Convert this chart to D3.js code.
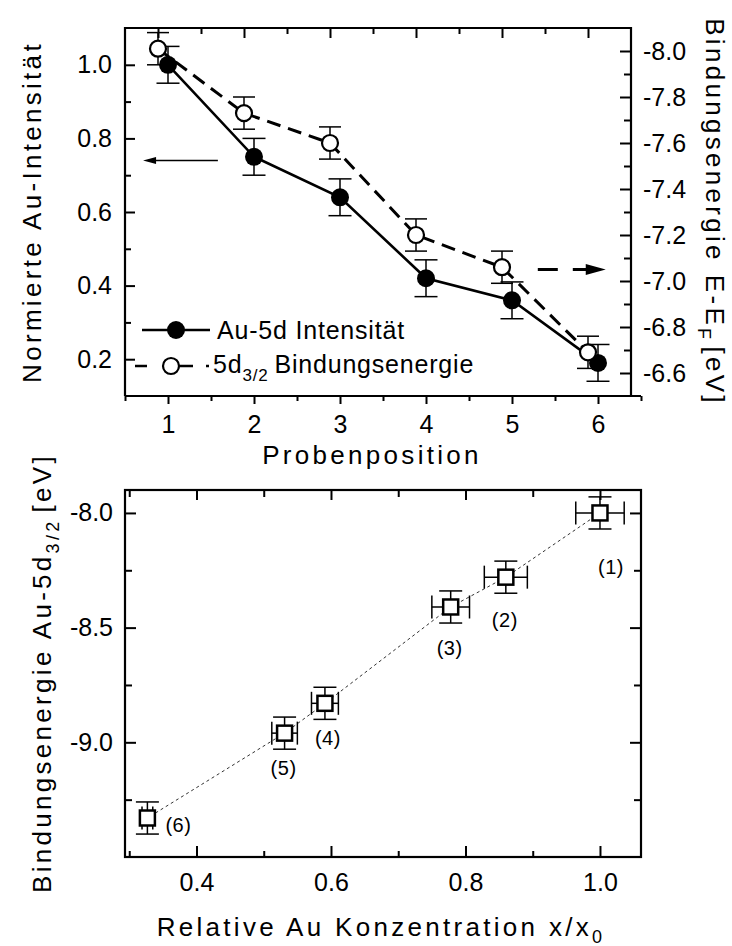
<!DOCTYPE html>
<html>
<head>
<meta charset="utf-8">
<script src="https://cdn.jsdelivr.net/npm/d3@7"></script>
<style>
body { margin: 0; background: #fff; }
text { font-family: "Liberation Sans", Arial, Helvetica, sans-serif; fill: #000; }
</style>
</head>
<body>
<svg id="chart" width="732" height="946"></svg>
<script>
// ---- top panel: intensity and binding energy vs. sample position
const positions = [1, 2, 3, 4, 5, 6]
const intensity = [1.0, 0.75, 0.64, 0.42, 0.36, 0.19]
const intensityErr = [0.05, 0.05, 0.05, 0.05, 0.05, 0.05]
const bindingTop = [-8.01, -7.73, -7.60, -7.20, -7.06, -6.69]
const bindingTopErr = [0.07, 0.07, 0.07, 0.07, 0.07, 0.07]
const intensityTicks = [0.2, 0.4, 0.6, 0.8, 1.0]
const intensityMinor = [0.3, 0.5, 0.7, 0.9]
const bindingTicks = [-8.0, -7.8, -7.6, -7.4, -7.2, -7.0, -6.8, -6.6]
const bindingMinor = [-7.9, -7.7, -7.5, -7.3, -7.1, -6.9, -6.7]
const positionMinor = [1.5, 2.5, 3.5, 4.5, 5.5, 6.5]

// ---- bottom panel: binding energy vs. relative concentration
const concentration = [1.0, 0.86, 0.778, 0.591, 0.531, 0.327]
const concentrationErr = [0.036, 0.032, 0.028, 0.02, 0.019, 0.008]
const bindingBottom = [-8.0, -8.28, -8.41, -8.83, -8.96, -9.33]
const bindingBottomErr = [0.07, 0.07, 0.07, 0.07, 0.07, 0.07]
const pointLabels = ["(1)", "(2)", "(3)", "(4)", "(5)", "(6)"]
const concTicks = [0.4, 0.6, 0.8, 1.0]
const concMinor = [0.3, 0.5, 0.7, 0.9]
const energyTicks = [-8.0, -8.5, -9.0]
const energyMinor = [-8.25, -8.75, -9.25]

// label offsets in pixels from the point centre (layout only)
const labelOffsets = [[11, 54], [-1, 43], [-1, 41], [3, 35], [-1, 35], [31, 7]]

const svg = d3.select("#chart")
const fmt1 = d => d.toFixed(1)
const tickFont = 25

function styleAxis(g, labelSize) {
    g.select(".domain").remove()
    g.attr("font-size", null).attr("font-family", null)
    g.selectAll("line").attr("stroke", "#000").attr("stroke-width", 2)
    g.selectAll("text").attr("font-size", labelSize)
}

function errBars(g, pts, cap) {
    // pts: [x1,y1,x2,y2,orientation]
    pts.forEach(p => {
        g.append("line").attr("x1", p[0]).attr("y1", p[1]).attr("x2", p[2]).attr("y2", p[3])
        if (p[4] === "v") {
            g.append("line").attr("x1", p[0] - cap).attr("x2", p[0] + cap).attr("y1", p[1]).attr("y2", p[1])
            g.append("line").attr("x1", p[2] - cap).attr("x2", p[2] + cap).attr("y1", p[3]).attr("y2", p[3])
        } else {
            g.append("line").attr("x1", p[0]).attr("x2", p[0]).attr("y1", p[1] - cap).attr("y2", p[1] + cap)
            g.append("line").attr("x1", p[2]).attr("x2", p[2]).attr("y1", p[3] - cap).attr("y2", p[3] + cap)
        }
    })
}

// ================= top panel =================
const T = {left: 125, right: 631, top: 28, bottom: 396}
const xPos = d3.scaleLinear().domain([0.5, 6.5]).range([125, 641])
const xPosTop = d3.scaleLinear().domain([0.5, 6.5]).range([115, 631])
const yInt = d3.scaleLinear().domain([0.1, 1.1]).range([T.bottom, T.top])
const yBind = d3.scaleLinear().domain([-6.5, -8.1]).range([T.bottom, T.top])

const gTop = svg.append("g")

// frame (bottom axis line is longer than the frame)
gTop.append("path")
    .attr("d", `M${T.left},${T.bottom}V${T.top}H${T.right}V${T.bottom}M${T.left},${T.bottom}H${xPos.range()[1]}`)
    .attr("fill", "none").attr("stroke", "#000").attr("stroke-width", 2.2)

// bottom axis, outward ticks
gTop.append("g").attr("transform", `translate(0,${T.bottom})`)
    .call(d3.axisBottom(xPos).tickValues(positions).tickSize(8).tickPadding(11).tickFormat(d3.format("d")))
    .call(g => styleAxis(g, tickFont))
gTop.append("g").attr("transform", `translate(0,${T.bottom})`)
    .call(d3.axisBottom(xPos).tickValues([0.5].concat(positionMinor)).tickSize(5).tickFormat(""))
    .call(g => styleAxis(g, tickFont))
// top axis (shifted, belongs to open circles)
gTop.append("g").attr("transform", `translate(0,${T.top})`)
    .call(d3.axisTop(xPosTop).tickValues(positions).tickSize(-10).tickFormat(""))
    .call(g => styleAxis(g, tickFont))
gTop.append("g").attr("transform", `translate(0,${T.top})`)
    .call(d3.axisTop(xPosTop).tickValues(positionMinor.slice(0, 5)).tickSize(-6).tickFormat(""))
    .call(g => styleAxis(g, tickFont))
// left axis
gTop.append("g").attr("transform", `translate(${T.left},0)`)
    .call(d3.axisLeft(yInt).tickValues(intensityTicks).tickSize(-10).tickPadding(13).tickFormat(fmt1))
    .call(g => styleAxis(g, tickFont))
gTop.append("g").attr("transform", `translate(${T.left},0)`)
    .call(d3.axisLeft(yInt).tickValues(intensityMinor).tickSize(-6).tickFormat(""))
    .call(g => styleAxis(g, tickFont))
// right axis
gTop.append("g").attr("transform", `translate(${T.right},0)`)
    .call(d3.axisRight(yBind).tickValues(bindingTicks).tickSize(-11).tickPadding(12).tickFormat(fmt1))
    .call(g => styleAxis(g, tickFont))
gTop.append("g").attr("transform", `translate(${T.right},0)`)
    .call(d3.axisRight(yBind).tickValues(bindingMinor).tickSize(-7).tickFormat(""))
    .call(g => styleAxis(g, tickFont))

// solid line through intensity
gTop.append("path")
    .datum(positions.map((p, i) => [xPos(p), yInt(intensity[i])]))
    .attr("d", d3.line()).attr("fill", "none").attr("stroke", "#000").attr("stroke-width", 2.6)
// dashed line through binding energy
gTop.append("path")
    .datum(positions.map((p, i) => [xPosTop(p), yBind(bindingTop[i])]))
    .attr("d", d3.line()).attr("fill", "none").attr("stroke", "#000").attr("stroke-width", 3)
    .attr("stroke-dasharray", "14,8")

const ebTop = gTop.append("g").attr("stroke", "#000").attr("stroke-width", 1.5)
errBars(ebTop, positions.map((p, i) => [xPos(p), yInt(intensity[i] + intensityErr[i]), xPos(p), yInt(intensity[i] - intensityErr[i]), "v"]), 11.5)
errBars(ebTop, positions.map((p, i) => [xPosTop(p), yBind(bindingTop[i] - bindingTopErr[i]), xPosTop(p), yBind(bindingTop[i] + bindingTopErr[i]), "v"]), 11)

gTop.append("g").selectAll("circle").data(positions).join("circle")
    .attr("cx", d => xPos(d)).attr("cy", (d, i) => yInt(intensity[i])).attr("r", 9).attr("fill", "#000")
gTop.append("g").selectAll("circle").data(positions).join("circle")
    .attr("cx", d => xPosTop(d)).attr("cy", (d, i) => yBind(bindingTop[i])).attr("r", 8)
    .attr("fill", "#fff").attr("stroke", "#000").attr("stroke-width", 2.2)

// arrows pointing to the respective axes
const la = {y: yInt(0.74), x1: xPos(1.58), x2: xPos(0.71)}
gTop.append("line").attr("x1", la.x1).attr("x2", la.x2 + 10).attr("y1", la.y).attr("y2", la.y)
    .attr("stroke", "#000").attr("stroke-width", 1.6)
gTop.append("path").attr("d", `M${la.x2},${la.y}l13,-3.5v7z`).attr("fill", "#000")
const ra = {y: yBind(-7.05), x1: xPos(5.3), x2: xPos(6.09)}
gTop.append("line").attr("x1", ra.x1).attr("x2", ra.x2 - 18).attr("y1", ra.y).attr("y2", ra.y)
    .attr("stroke", "#000").attr("stroke-width", 3.2).attr("stroke-dasharray", "20,15")
gTop.append("path").attr("d", `M${ra.x2},${ra.y}l-20,-5.5v11z`).attr("fill", "#000")

// legend
const lg = gTop.append("g")
lg.append("line").attr("x1", 142).attr("x2", 210).attr("y1", 330).attr("y2", 330)
    .attr("stroke", "#000").attr("stroke-width", 2.6)
lg.append("circle").attr("cx", 176).attr("cy", 330).attr("r", 9).attr("fill", "#000")
lg.append("text").attr("x", 217).attr("y", 339).attr("font-size", 25).attr("letter-spacing", 0.8)
    .text("Au-5d Intensität")
lg.append("line").attr("x1", 135).attr("x2", 210).attr("y1", 366).attr("y2", 366)
    .attr("stroke", "#000").attr("stroke-width", 2.6).attr("stroke-dasharray", "12,17,29,13,3,100")
lg.append("circle").attr("cx", 171).attr("cy", 366).attr("r", 8)
    .attr("fill", "#fff").attr("stroke", "#000").attr("stroke-width", 2.2)
const lt = lg.append("text").attr("x", 213).attr("y", 373).attr("font-size", 25).attr("letter-spacing", 0.8)
lt.append("tspan").text("5d")
lt.append("tspan").attr("font-size", 17).attr("dy", 8).text("3/2")
lt.append("tspan").attr("dy", -8).attr("dx", 6).text("Bindungsenergie")

// axis titles
const titleFont = 26, titleSpacing = 3.3
gTop.append("text").attr("transform", `translate(41,212) rotate(-90)`)
    .attr("text-anchor", "middle").attr("font-size", titleFont).attr("letter-spacing", titleSpacing)
    .text("Normierte Au-Intensität")
const rt = gTop.append("text").attr("transform", `translate(706,212) rotate(90)`)
    .attr("text-anchor", "middle").attr("font-size", titleFont).attr("letter-spacing", titleSpacing)
rt.append("tspan").text("Bindungsenergie")
rt.append("tspan").attr("dx", 12).text("E-E")
rt.append("tspan").attr("font-size", 18).attr("dy", 8).text("F")
rt.append("tspan").attr("dy", -8).attr("dx", 4).text("[eV]")
gTop.append("text").attr("x", 372).attr("y", 464)
    .attr("text-anchor", "middle").attr("font-size", titleFont).attr("letter-spacing", titleSpacing)
    .text("Probenposition")

// ================= bottom panel =================
const B = {left: 125, right: 641, top: 490, bottom: 857}
const xConc = d3.scaleLinear().domain([0.2937, 1.061]).range([B.left, B.right])
const yEn = d3.scaleLinear().domain([-9.5, -7.9]).range([B.bottom, B.top])

const gBot = svg.append("g")
gBot.append("rect").attr("x", B.left).attr("y", B.top)
    .attr("width", B.right - B.left).attr("height", B.bottom - B.top)
    .attr("fill", "none").attr("stroke", "#000").attr("stroke-width", 2.2)

gBot.append("g").attr("transform", `translate(0,${B.bottom})`)
    .call(d3.axisBottom(xConc).tickValues(concTicks).tickSize(-11).tickPadding(16).tickFormat(fmt1))
    .call(g => styleAxis(g, tickFont))
gBot.append("g").attr("transform", `translate(0,${B.bottom})`)
    .call(d3.axisBottom(xConc).tickValues(concMinor).tickSize(-6).tickFormat(""))
    .call(g => styleAxis(g, tickFont))
gBot.append("g").attr("transform", `translate(0,${B.top})`)
    .call(d3.axisTop(xConc).tickValues(concTicks).tickSize(-10).tickFormat(""))
    .call(g => styleAxis(g, tickFont))
gBot.append("g").attr("transform", `translate(0,${B.top})`)
    .call(d3.axisTop(xConc).tickValues(concMinor).tickSize(-7).tickFormat(""))
    .call(g => styleAxis(g, tickFont))
gBot.append("g").attr("transform", `translate(${B.left},0)`)
    .call(d3.axisLeft(yEn).tickValues(energyTicks).tickSize(-11).tickPadding(12).tickFormat(fmt1))
    .call(g => styleAxis(g, tickFont))
gBot.append("g").attr("transform", `translate(${B.left},0)`)
    .call(d3.axisLeft(yEn).tickValues(energyMinor).tickSize(-7).tickFormat(""))
    .call(g => styleAxis(g, tickFont))
gBot.append("g").attr("transform", `translate(${B.right},0)`)
    .call(d3.axisRight(yEn).tickValues(energyTicks).tickSize(-11).tickFormat(""))
    .call(g => styleAxis(g, tickFont))
gBot.append("g").attr("transform", `translate(${B.right},0)`)
    .call(d3.axisRight(yEn).tickValues(energyMinor).tickSize(-7).tickFormat(""))
    .call(g => styleAxis(g, tickFont))

// dotted guide line
gBot.append("path")
    .datum(concentration.map((c, i) => [xConc(c), yEn(bindingBottom[i])]))
    .attr("d", d3.line()).attr("fill", "none").attr("stroke", "#333").attr("stroke-width", 1)
    .attr("stroke-dasharray", "3,3")

const ebBot = gBot.append("g").attr("stroke", "#000").attr("stroke-width", 1.5)
errBars(ebBot, concentration.map((c, i) => [xConc(c), yEn(bindingBottom[i] + bindingBottomErr[i]), xConc(c), yEn(bindingBottom[i] - bindingBottomErr[i]), "v"]), 11.5)
errBars(ebBot, concentration.map((c, i) => [xConc(c - concentrationErr[i]), yEn(bindingBottom[i]), xConc(c + concentrationErr[i]), yEn(bindingBottom[i]), "h"]), 11.5)

const sq = 15
gBot.append("g").selectAll("rect").data(concentration).join("rect")
    .attr("x", d => xConc(d) - sq / 2).attr("y", (d, i) => yEn(bindingBottom[i]) - sq / 2)
    .attr("width", sq).attr("height", sq)
    .attr("fill", "#fff").attr("stroke", "#000").attr("stroke-width", 2.5)

gBot.append("g").selectAll("text").data(pointLabels).join("text")
    .attr("x", (d, i) => xConc(concentration[i]) + labelOffsets[i][0])
    .attr("y", (d, i) => yEn(bindingBottom[i]) + labelOffsets[i][1])
    .attr("text-anchor", "middle").attr("dominant-baseline", "central")
    .attr("font-size", 20).attr("letter-spacing", 0.5)
    .text(d => d)

const bl = gBot.append("text").attr("transform", `translate(51,673) rotate(-90)`)
    .attr("text-anchor", "middle").attr("font-size", titleFont).attr("letter-spacing", titleSpacing)
bl.append("tspan").text("Bindungsenergie Au-5d")
bl.append("tspan").attr("font-size", 18).attr("dy", 8).text("3/2")
bl.append("tspan").attr("dy", -8).attr("dx", 6).text("[eV]")

const bx = gBot.append("text").attr("x", 381).attr("y", 936)
    .attr("text-anchor", "middle").attr("font-size", titleFont).attr("letter-spacing", titleSpacing)
bx.append("tspan").text("Relative Au Konzentration x/x")
bx.append("tspan").attr("font-size", 18).attr("dy", 7).text("0")
</script>
</body>
</html>
